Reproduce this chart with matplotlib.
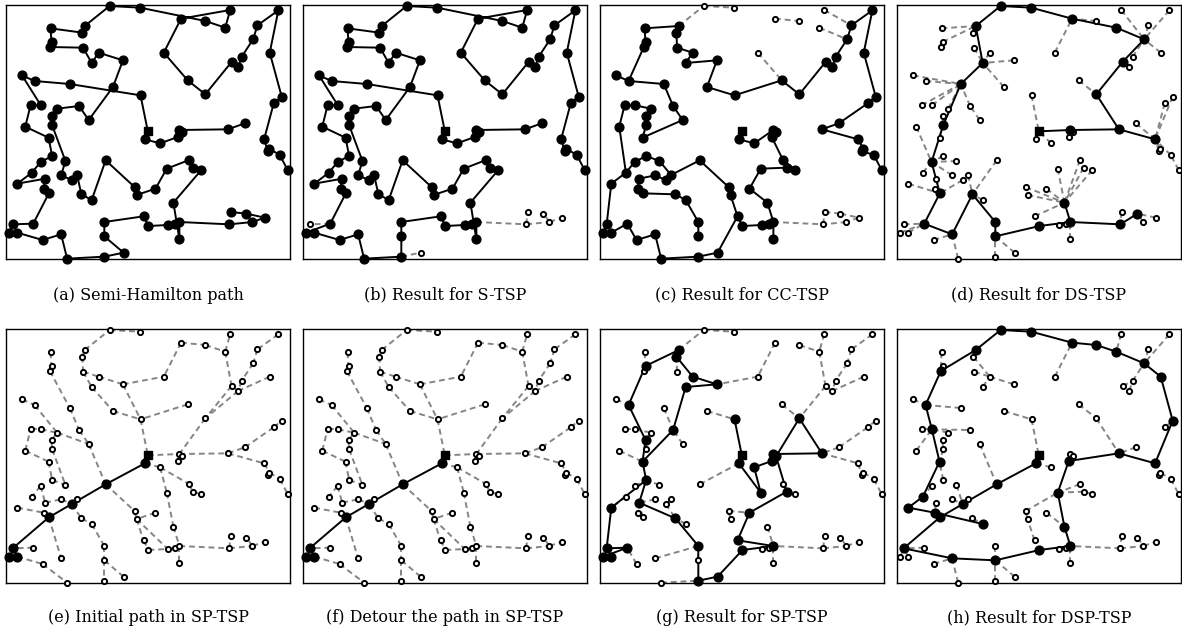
import numpy as np
import matplotlib.pyplot as plt

# node positions on the map (x to the right, y downwards)
node_x = np.array([737, 686, 540, 535, 482, 436, 445, 423, 210, 104,
                   66, 123, 92, 76, 146, 157, 122, 96, 52, 136,
                   131, 147, 100, 38, 28, 52, 128, 184, 202, 314,
                   372, 314, 314, 432, 447, 505, 528, 540, 540, 522,
                   606, 580, 569, 502, 468, 411, 405, 318, 276, 245,
                   232, 216, 184, 197, 157, 155, 172, 238, 267, 340,
                   370, 297, 276, 250, 150, 155, 152, 248, 255, 330,
                   422, 618, 678, 693, 545, 493, 565, 618, 697, 717,
                   727, 762, 775, 838, 812, 848, 824, 795, 806, 811,
                   842, 866, 690, 760, 797, 742, 694, 548])
node_y = np.array([372, 390, 392, 413, 432, 420, 396, 288, 254, 245,
                   228, 318, 318, 382, 415, 470, 488, 520, 553, 538,
                   568, 582, 673, 675, 700, 700, 722, 705, 778, 772,
                   760, 711, 668, 651, 680, 677, 675, 668, 720, 610,
                   512, 505, 482, 508, 568, 587, 563, 483, 602, 585,
                   527, 542, 528, 485, 378, 350, 328, 320, 362, 263,
                   183, 160, 191, 145, 143, 128, 87, 100, 80, 20,
                   25, 65, 85, 32, 58, 160, 243, 285, 188, 203,
                   173, 120, 78, 33, 160, 292, 312, 420, 455, 448,
                   467, 512, 675, 668, 655, 643, 638, 399])
depot = 6

# (a) semi-Hamilton path
paths_a = [[0, 1, 2, 97, 3, 4, 5, 6] + list(range(7, 92)),
           [37, 92, 93, 94, 95, 96]]
dash_a = []

# (b) S-TSP: the same tour, skipping nodes covered by a neighbour
paths_b = [[0, 1, 2, 97, 3, 4, 5, 6] + list(range(7, 23)) + [24]
           + list(range(25, 30)) + list(range(31, 92))]
dash_b = [(37, 92), (92, 96), (92, 93), (93, 95), (93, 94), (22, 23),
          (29, 30)]

# (c) CC-TSP
paths_c = [[68, 67, 63, 61, 62, 60, 59, 7, 76, 77, 78, 79, 80, 81, 82, 83,
            84, 85, 86, 0, 1, 87, 89, 88, 90, 91],
           [68, 66, 65, 64, 9],
           [10, 9, 8, 57, 58, 14, 54, 55, 56, 11, 12, 13, 17, 18, 23, 24,
            25, 22, 26, 27, 28, 29, 30, 33, 34, 35, 36, 37, 38],
           [6, 5, 4, 2, 97, 3, 42, 40, 41, 43, 44, 39, 37],
           [17, 16, 15, 53, 50, 51, 52, 19, 20, 21, 49, 48, 32, 31],
           [50, 47, 46, 45, 33]]
dash_c = [(68, 69), (69, 70), (74, 71), (72, 81), (73, 82), (75, 76),
          (37, 92), (92, 96), (96, 95), (95, 94), (94, 93), (93, 92)]

# (d) DS-TSP
paths_d = [[87, 1, 77, 78, 81, 72, 74, 70, 69, 68, 62, 8, 54, 16, 21, 22,
            27, 49, 32, 31, 34, 37, 92, 95],
           [6, 2, 1],
           [37, 39]]
dash_d = [(71, 74), (73, 81), (83, 81), (82, 81), (84, 81), (80, 81),
          (79, 78), (75, 74), (66, 68), (67, 68), (65, 68), (64, 65),
          (63, 62), (61, 62), (60, 62), (59, 62), (10, 8), (9, 8), (12, 8),
          (11, 8), (56, 8), (57, 8), (58, 57), (55, 54), (13, 16), (14, 54),
          (76, 77), (7, 6), (0, 87), (86, 87), (85, 87), (88, 87), (89, 87),
          (90, 87), (91, 90), (3, 2), (5, 6), (4, 6), (15, 16), (53, 16),
          (47, 49), (17, 16), (19, 21), (52, 16), (50, 49), (51, 21),
          (18, 21), (20, 21), (48, 49), (42, 39), (41, 39), (40, 39),
          (43, 39), (46, 39), (45, 39), (44, 39), (33, 39), (35, 37),
          (36, 37), (38, 37), (96, 92), (93, 95), (94, 95), (23, 22),
          (24, 22), (25, 22), (26, 27), (28, 27), (29, 31), (30, 31),
          (97, 2)]

# (e) initial path in SP-TSP, (f) after the detour
paths_e = [[6, 5, 47, 51, 21, 23, 25, 24]]
dash_e = [(69, 70), (68, 69), (67, 68), (67, 63), (63, 61), (63, 62),
          (61, 60), (60, 75), (62, 59), (59, 7), (60, 7), (7, 6), (64, 8),
          (8, 57), (57, 58), (9, 56), (56, 58), (56, 55), (55, 54), (66, 65),
          (65, 64), (10, 9), (12, 11), (11, 56), (13, 12), (13, 14),
          (14, 15), (15, 53), (54, 53), (16, 17), (16, 19), (19, 52),
          (52, 51), (50, 51), (18, 20), (20, 21), (21, 27), (51, 49),
          (49, 48), (48, 32), (32, 31), (31, 29), (31, 30), (58, 47),
          (47, 46), (46, 45), (45, 33), (45, 35), (22, 23), (25, 26),
          (26, 28), (74, 75), (74, 71), (71, 72), (72, 73), (72, 78),
          (83, 82), (82, 81), (81, 80), (80, 79), (79, 78), (84, 79),
          (78, 77), (79, 77), (77, 2), (76, 7), (6, 2), (2, 1), (1, 0),
          (0, 86), (86, 85), (5, 4), (4, 42), (4, 43), (42, 41), (41, 40),
          (43, 39), (39, 37), (37, 92), (92, 96), (92, 93), (93, 95),
          (93, 94), (1, 87), (87, 89), (89, 88), (89, 90), (90, 91),
          (37, 38), (34, 35), (35, 36), (36, 37), (33, 34), (2, 97), (2, 3),
          (44, 45)]
paths_f = paths_e
dash_f = dash_e

# (g) SP-TSP
paths_g = [[25, 24, 22, 23, 18, 15, 14, 55, 9, 65, 68, 67, 61, 60, 62, 57, 14],
           [15, 19, 49, 32, 29, 30, 34, 37, 33, 44, 41, 97, 77, 1, 2, 3, 4,
            43, 5, 6, 7]]
dash_g = [(69, 70), (68, 69), (74, 75), (71, 72), (73, 72), (72, 78),
          (83, 82), (82, 81), (81, 80), (80, 79), (79, 78), (84, 79),
          (78, 77), (76, 77), (75, 60), (59, 7), (10, 9), (66, 65), (64, 65),
          (63, 67), (8, 57), (12, 11), (11, 56), (56, 55), (54, 55),
          (13, 14), (58, 57), (53, 15), (16, 15), (17, 18), (52, 19),
          (51, 49), (50, 51), (20, 21), (21, 19), (48, 49), (47, 5),
          (46, 44), (45, 46), (39, 37), (38, 37), (35, 36), (36, 37),
          (92, 37), (92, 96), (92, 93), (93, 95), (93, 94), (40, 41),
          (42, 41), (0, 86), (85, 86), (0, 1), (1, 87), (87, 88), (88, 89),
          (89, 90), (90, 91), (27, 32), (26, 22), (31, 32), (28, 29)]

# (h) DSP-TSP
paths_h = [[6, 5, 47, 51, 21, 23, 27, 31, 34, 37, 39, 43, 3, 1, 87, 85, 84,
            81, 72, 71, 74, 70, 69, 68, 64, 9, 11, 14, 17, 18, 20, 48]]
dash_h = [(66, 64), (65, 64), (67, 68), (67, 61), (61, 60), (63, 61),
          (62, 61), (10, 9), (9, 8), (12, 11), (11, 57), (56, 11), (13, 11),
          (58, 47), (59, 7), (7, 6), (75, 74), (76, 77), (77, 1), (73, 72),
          (83, 81), (82, 81), (80, 81), (78, 80), (79, 80), (0, 1), (86, 85),
          (87, 89), (89, 88), (89, 90), (90, 91), (4, 5), (2, 3), (97, 3),
          (42, 43), (41, 43), (40, 41), (46, 43), (45, 46), (33, 45),
          (44, 39), (35, 36), (36, 37), (38, 37), (92, 37), (96, 92),
          (92, 93), (93, 94), (95, 93), (22, 23), (24, 23), (25, 23),
          (26, 27), (28, 27), (29, 31), (30, 31), (32, 31), (49, 48),
          (50, 51), (15, 14), (16, 17), (19, 20), (52, 51), (53, 51),
          (54, 14), (55, 54)]

panels = [
    (paths_a, dash_a, '(a) Semi-Hamilton path'),
    (paths_b, dash_b, '(b) Result for S-TSP'),
    (paths_c, dash_c, '(c) Result for CC-TSP'),
    (paths_d, dash_d, '(d) Result for DS-TSP'),
    (paths_e, dash_e, '(e) Initial path in SP-TSP'),
    (paths_f, dash_f, '(f) Detour the path in SP-TSP'),
    (paths_g, dash_g, '(g) Result for SP-TSP'),
    (paths_h, dash_h, '(h) Result for DSP-TSP'),
]

W, H = 1182, 629
fig = plt.figure(figsize=(W / 100, H / 100), dpi=100)
lefts = [6, 303, 600, 897]
tops = [5, 329]
caption_y = [295, 618]
pw, ph = 284, 254

for k, (paths, dashes, caption) in enumerate(panels):
    row, col = divmod(k, 4)
    l, t = lefts[col], tops[row]
    ax = fig.add_axes([l / W, 1 - (t + ph) / H, pw / W, ph / H])
    ax.set_xlim(18, 873)
    ax.set_ylim(779, 17)
    ax.set_xticks([])
    ax.set_yticks([])
    for s in ax.spines.values():
        s.set_linewidth(1.0)

    for i, j in dashes:
        ax.plot([node_x[i], node_x[j]], [node_y[i], node_y[j]],
                color='#858585', lw=1.4, ls=(0, (3, 2)), zorder=1,
                clip_on=False)
    for p in paths:
        ax.plot(node_x[p], node_y[p], color='black', lw=1.4, zorder=2,
                clip_on=False)

    visited = sorted(set(i for p in paths for i in p))
    others = [i for i in range(len(node_x)) if i not in visited]
    ax.scatter(node_x[others], node_y[others], s=14, facecolor='white',
               edgecolor='black', linewidth=1.4, zorder=3, clip_on=False)
    dots = [i for i in visited if i != depot]
    ax.scatter(node_x[dots], node_y[dots], s=40, color='black', zorder=4,
               clip_on=False)
    if depot in visited:
        ax.scatter(node_x[depot], node_y[depot], s=30, marker='s',
                   color='black', zorder=4, clip_on=False)

    fig.text((l + pw / 2) / W, 1 - caption_y[row] / H, caption,
             ha='center', va='center', fontsize=11.5, family='DejaVu Serif')

fig.savefig('out.png', dpi=100)
